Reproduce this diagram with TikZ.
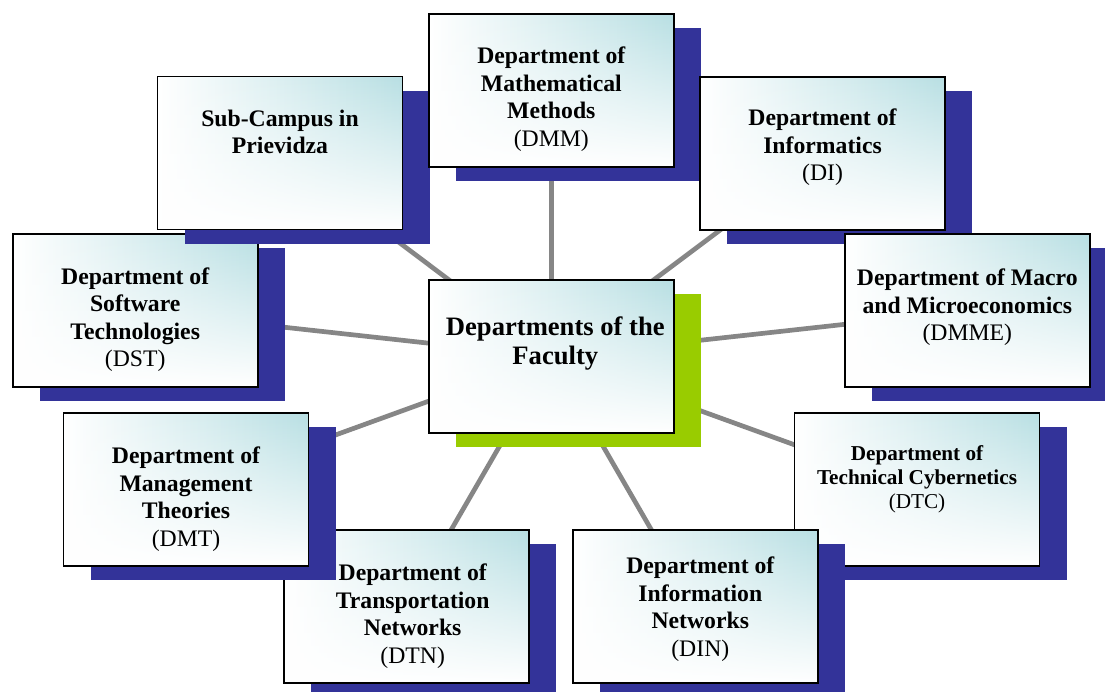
\documentclass[tikz,border=0pt]{standalone}
\usepackage{fontspec}
\setmainfont{Liberation Serif}
\usetikzlibrary{shadows,backgrounds,fadings}
\definecolor{shblue}{RGB}{51,51,153}
\definecolor{shgreen}{RGB}{153,204,0}
\definecolor{tealc}{RGB}{184,223,227}
\definecolor{linegray}{RGB}{134,134,134}
\tikzfading[name=vfade, top color=transparent!100, middle color=transparent!72, bottom color=transparent!0]
\tikzset{
  boxbase/.style={rectangle, draw=black, line width=1.8pt, minimum width=245pt,
    minimum height=153pt, inner sep=0pt, fill=white,
    path picture={
      \shade[left color=white, middle color=tealc!55!white, right color=tealc]
        (path picture bounding box.south west) rectangle (path picture bounding box.north east);
      \fill[white, path fading=vfade]
        (path picture bounding box.south west) rectangle (path picture bounding box.north east);}},
  dept/.style={boxbase, drop shadow={shadow xshift=27pt, shadow yshift=-14pt, fill=shblue, opacity=1}},
  hub/.style={boxbase, drop shadow={shadow xshift=27pt, shadow yshift=-14pt, fill=shgreen, opacity=1}},
  txt/.style={anchor=north, align=center, inner sep=0pt, font=\fontsize{23.7}{27.5}\selectfont\bfseries},
  link/.style={draw=linegray, line width=4.7pt},
}
\begin{document}
\begin{tikzpicture}[x=1pt,y=-1pt]
\useasboundingbox (0,0) rectangle (1105,691);

\node[dept] (dst) at (135.2,310.8) {};
\node[txt] at ([yshift=-34pt]dst.north) {Department of\\Software\\Technologies\\{\mdseries (DST)}};

\node[dept] (sub) at (280,153) {};
\node[txt] at ([yshift=-34pt]sub.north) {Sub-Campus in\\Prievidza};

\node[dept] (dmm) at (551.3,90.5) {};
\node[txt] at ([yshift=-34pt]dmm.north) {Department of\\Mathematical\\Methods\\{\mdseries (DMM)}};

\node[dept] (di) at (822.5,153.2) {};
\node[txt] at ([yshift=-33pt]di.north) {Department of\\Informatics\\{\mdseries (DI)}};

\node[dept] (dmme) at (967.3,310.8) {};
\node[txt] at ([yshift=-35.5pt]dmme.north) {Department of Macro\\and Microeconomics\\{\mdseries (DMME)}};

\node[dept] (dtn) at (406.7,606.7) {};
\node[txt] at ([xshift=6pt,yshift=-34.5pt]dtn.north) {Department of\\Transportation\\Networks\\{\mdseries (DTN)}};

\node[dept] (dmt) at (186,489.2) {};
\node[txt] at ([yshift=-35pt]dmt.north) {Department of\\Management\\Theories\\{\mdseries (DMT)}};

\node[dept] (dtc) at (917,489.2) {};
\node[txt, font=\fontsize{21.2}{24}\selectfont\bfseries] at ([yshift=-33.5pt]dtc.north) {Department of\\Technical Cybernetics\\{\mdseries (DTC)}};

\node[dept] (din) at (695.8,606.7) {};
\node[txt] at ([xshift=4.5pt,yshift=-27.5pt]din.north) {Department of\\Information\\Networks\\{\mdseries (DIN)}};

\node[hub] (c) at (551.3,356.7) {};
\node[txt, font=\fontsize{26.6}{29}\selectfont\bfseries] at ([xshift=4pt,yshift=-37.5pt]c.north) {Departments of the\\Faculty};

\begin{pgfonlayer}{background}
  \foreach \t in {dst,sub,dmm,di,dmme,dtc,din,dtn,dmt}
    \draw[link] (c.center) -- (\t.center);
\end{pgfonlayer}
\end{tikzpicture}
\end{document}
